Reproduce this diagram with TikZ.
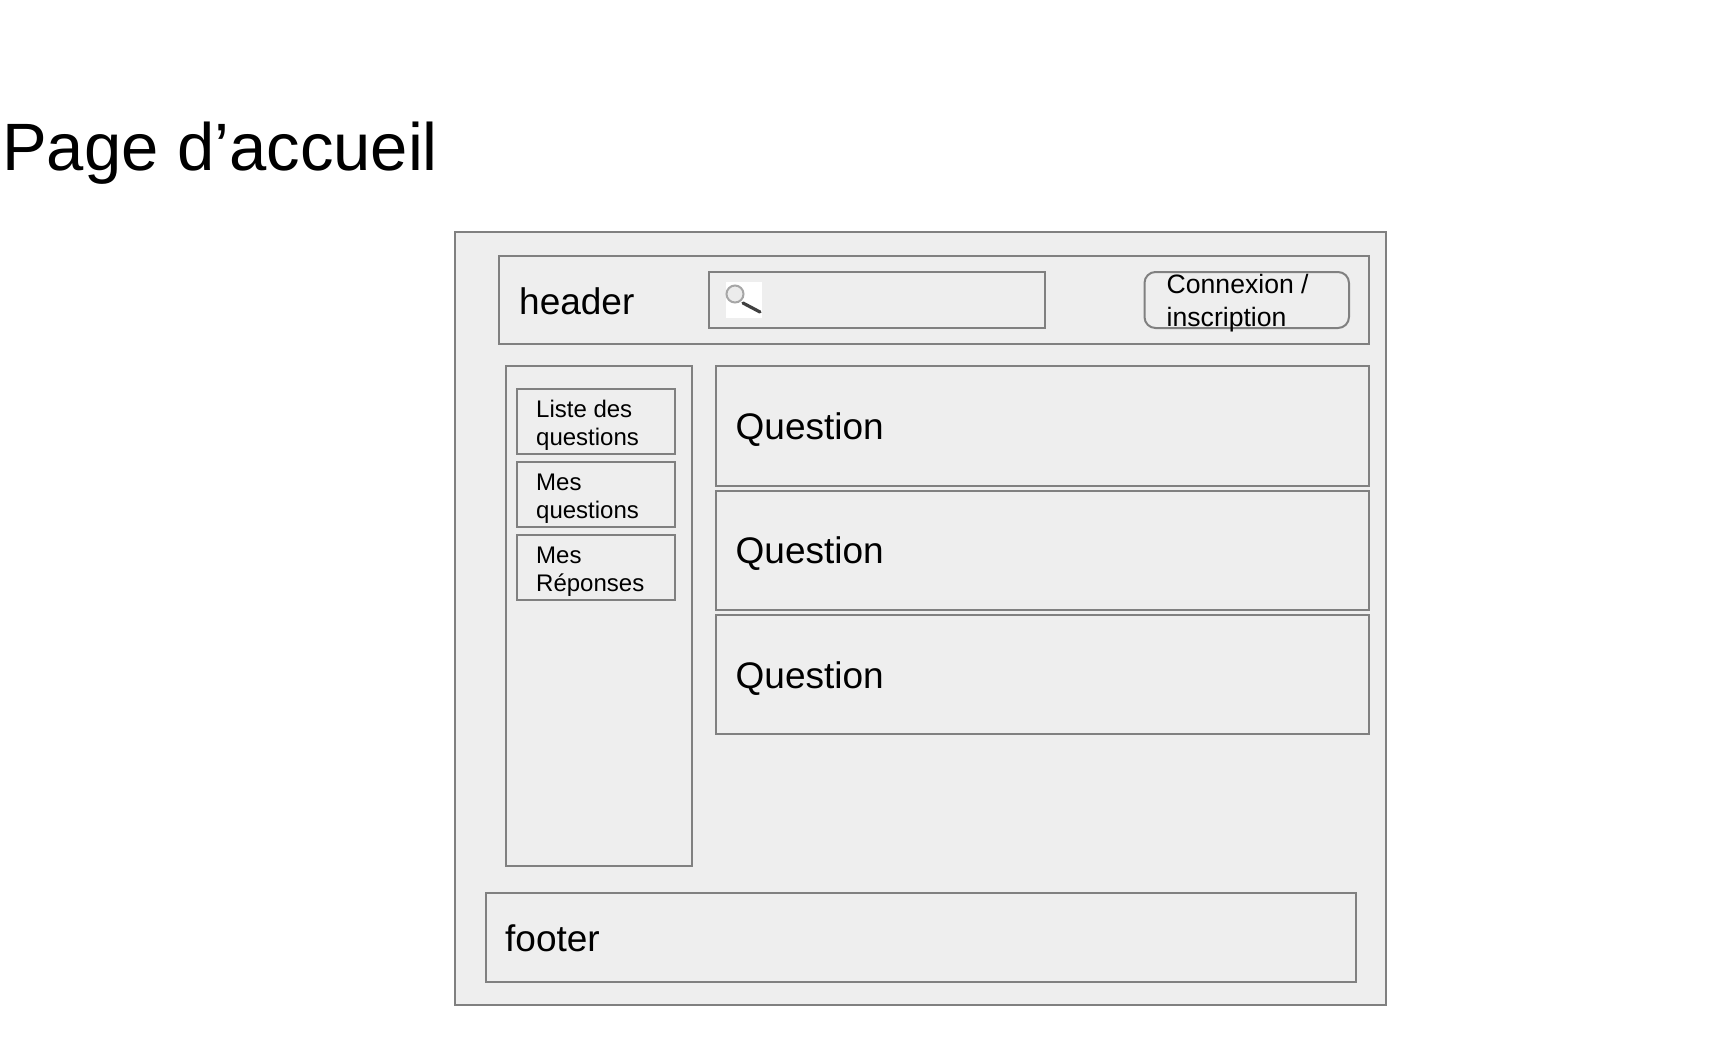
\documentclass[tikz,border=0pt]{standalone}
\usepackage{fontspec}
\setmainfont{Liberation Sans}
\usepackage{tikz}
\definecolor{boxfill}{HTML}{EEEEEE}
\definecolor{boxline}{HTML}{808080}
\tikzset{
  panel/.style={draw=boxline,fill=boxfill,line width=2pt},
  biglabel/.style={anchor=base west,inner sep=0pt,font=\fontsize{37}{37}\selectfont},
  menulabel/.style={anchor=base west,inner sep=0pt,align=left,font=\fontsize{24}{27.5}\selectfont},
  loginlabel/.style={anchor=base west,inner sep=0pt,align=left,font=\fontsize{26.6}{32.5}\selectfont}
}
\begin{document}
\begin{tikzpicture}[x=1pt,y=-1pt]
\useasboundingbox (0,0) rectangle (1713,1050);
\node[anchor=base west,inner sep=0pt,font=\fontsize{67}{67}\selectfont] (title) at (2,170.5) {Page d’accueil};
\draw[panel] (455,232) rectangle (1386,1005);
\draw[panel] (499,255.5) rectangle (1369,344);
\draw[panel] (709,272) rectangle (1045,328);
\draw[panel,rounded corners=11pt] (1144.5,272) rectangle (1349,328);
\draw[panel] (506,366) rectangle (692,866);
\draw[panel] (517,389) rectangle (675,454);
\draw[panel] (517,462) rectangle (675,527);
\draw[panel] (517,535) rectangle (675,600);
\draw[panel] (716,366) rectangle (1369,486);
\draw[panel] (716,491) rectangle (1369,610);
\draw[panel] (716,614.5) rectangle (1369,734);
\draw[panel] (486,893) rectangle (1356,982);
\fill[white] (726,282) rectangle (762,318);
\draw[gray!70,line width=2pt,fill=gray!15] (735,294) circle (8.5);
\draw[black!75,line width=3.2pt,line cap=round] (743,303) -- (760,312);
\node[biglabel] (headerlabel) at (519,314) {header};
\node[loginlabel] (loginlabel) at (1166.5,326) {Connexion /\\inscription};
\node[menulabel] (listlabel) at (536,445) {Liste des\\questions};
\node[menulabel] (minelabel) at (536,518) {Mes\\questions};
\node[menulabel] (answerlabel) at (536,591) {Mes\\Réponses};
\node[biglabel] (questiona) at (735.5,439.5) {Question};
\node[biglabel] (questionb) at (735.5,563.5) {Question};
\node[biglabel] (questionc) at (735.5,688.5) {Question};
\node[biglabel] (footerlabel) at (505,951.5) {footer};
\end{tikzpicture}
\end{document}
